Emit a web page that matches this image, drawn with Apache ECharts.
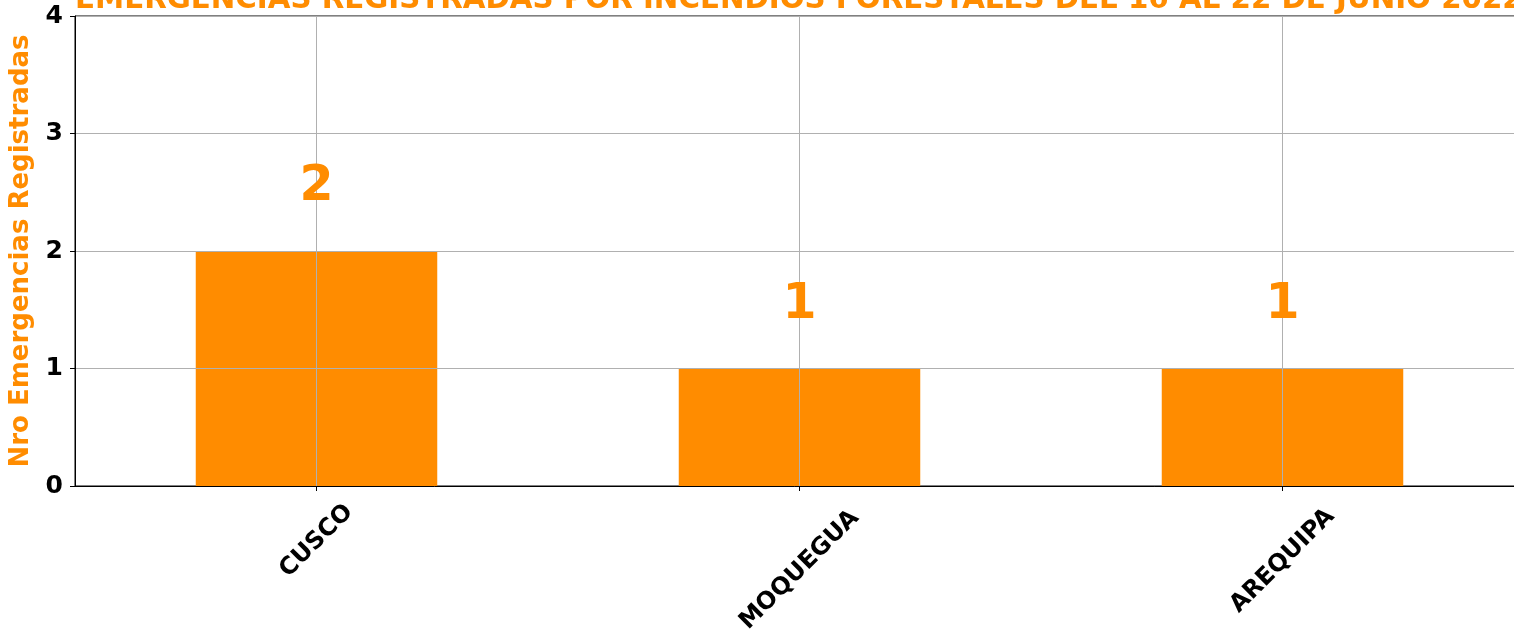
<!DOCTYPE html>
<html>
<head>
<meta charset="utf-8">
<script src="https://cdn.jsdelivr.net/npm/echarts@6/dist/echarts.min.js"></script>
<style>
html,body{margin:0;padding:0;background:#fff;}
#chart{width:1514px;height:633px;}
</style>
</head>
<body>
<div id="chart"></div>
<script>
const titleText = 'EMERGENCIAS REGISTRADAS POR INCENDIOS FORESTALES DEL 16 AL 22 DE JUNIO 2022';
const yAxisName = 'Nro Emergencias Registradas';
const categories = ['CUSCO', 'MOQUEGUA', 'AREQUIPA'];
const emergencias = [2, 1, 1];
const yTicks = [0, 1, 2, 3, 4];

// extra downward shift (px) of each rotated tick label, mimicking centred rotated labels
const labelShift = {CUSCO: 0, MOQUEGUA: 29, AREQUIPA: 20};

const ORANGE = '#ff8c00';
const FONT = 'DejaVu Sans';
const GRIDC = '#b0b0b0';

const chart = echarts.init(document.getElementById('chart'), null, {renderer: 'canvas'});

const xData = categories.map(c => {
  const b = (labelShift[c] || 0) / Math.SQRT2; // shift along each rotated local axis
  const ts = {align: 'center', verticalAlign: 'middle'};
  if (b > 0) {
    ts.padding = [0, Math.round(2 * b), 0, 0];
    ts.verticalAlign = 'top';
    ts.lineHeight = Math.round(2 * b);
  }
  return {value: c, textStyle: ts};
});

const option = {
  animation: false,
  backgroundColor: '#ffffff',
  title: {
    text: titleText,
    left: 75,
    top: -14,
    padding: 0,
    textStyle: {color: ORANGE, fontFamily: FONT, fontWeight: 'bold', fontSize: 29.3}
  },
  grid: {
    left: 75, top: 16, bottom: 147, right: -10,
    show: true, borderColor: '#000', borderWidth: 1, backgroundColor: 'transparent',
    containLabel: false,
    outerBoundsMode: 'none'
  },
  xAxis: {
    type: 'category',
    data: xData,
    z: 3,
    axisLine: {show: true, lineStyle: {color: '#000', width: 1}},
    axisTick: {show: true, alignWithLabel: true, length: 5, lineStyle: {color: '#000'}},
    splitLine: {show: false},
    axisLabel: {
      rotate: 45, interval: 0, margin: 55,
      align: 'center', verticalAlign: 'middle',
      color: '#000', fontFamily: FONT, fontWeight: 'bold', fontSize: 24
    }
  },
  yAxis: {
    type: 'value',
    min: yTicks[0], max: yTicks[yTicks.length - 1], interval: 1,
    z: 3,
    name: yAxisName,
    nameLocation: 'middle',
    nameGap: 40,
    nameTextStyle: {color: ORANGE, fontFamily: FONT, fontWeight: 'bold', fontSize: 26},
    axisLine: {show: true, lineStyle: {color: '#000', width: 1}},
    axisTick: {show: true, length: 5, lineStyle: {color: '#000'}},
    splitLine: {show: true, lineStyle: {color: GRIDC, width: 1}},
    axisLabel: {margin: 12, color: '#000', fontFamily: FONT, fontWeight: 'bold', fontSize: 25}
  },
  series: [
    {
      type: 'bar',
      data: emergencias,
      barWidth: '50%',
      z: 1,
      itemStyle: {color: ORANGE},
      silent: true
    },
    {
      // vertical grid lines at category centres, drawn above the bars
      type: 'bar',
      data: [],
      barWidth: '50%',
      barGap: '-100%',
      z: 3,
      silent: true,
      markLine: {
        silent: true,
        symbol: ['none', 'none'],
        label: {show: false},
        lineStyle: {color: GRIDC, width: 1, type: 'solid'},
        emphasis: {disabled: true},
        data: categories.map(c => ({xAxis: c}))
      }
    },
    {
      type: 'bar',
      data: emergencias,
      barWidth: '50%',
      barGap: '-100%',
      z: 5,
      itemStyle: {color: 'rgba(0,0,0,0)'},
      silent: true,
      label: {
        show: true, position: 'top', distance: 39,
        color: ORANGE, fontFamily: FONT, fontWeight: 'bold', fontSize: 49
      }
    }
  ]
};
chart.setOption(option);
</script>
</body>
</html>
